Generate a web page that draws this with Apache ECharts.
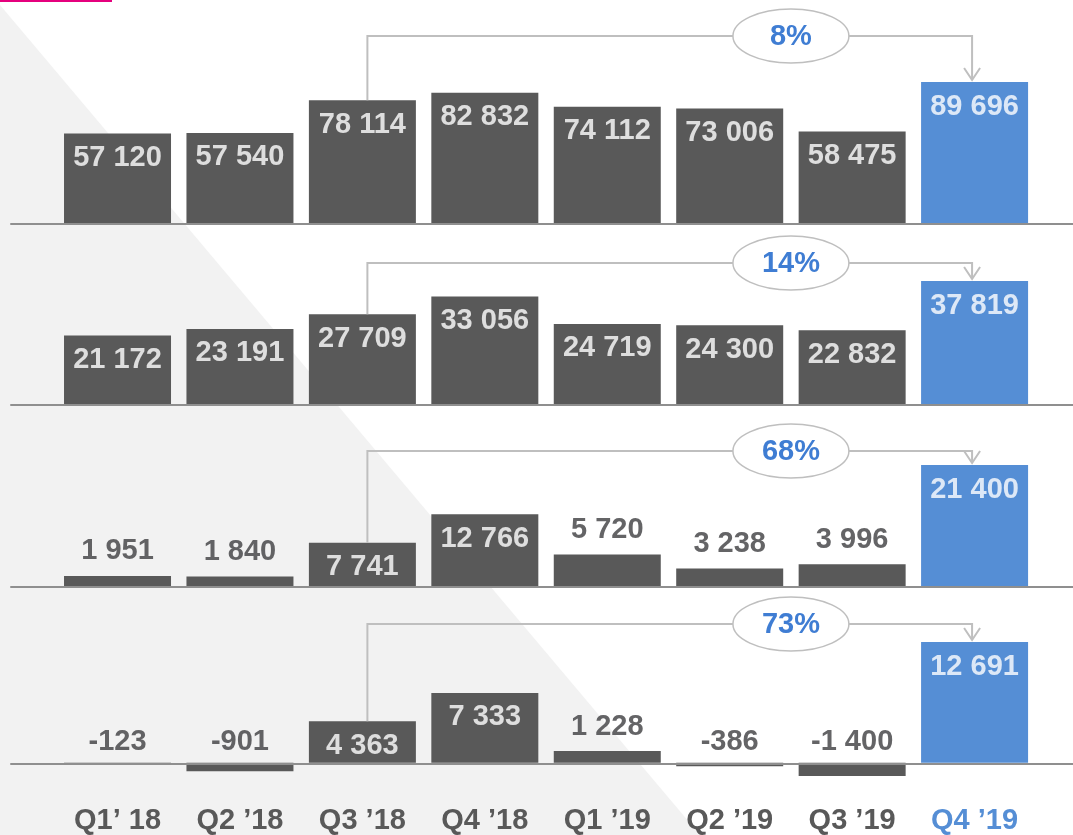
<!DOCTYPE html>
<html><head><meta charset="utf-8">
<script src="https://cdn.jsdelivr.net/npm/echarts@6/dist/echarts.min.js"></script>
<style>html,body{margin:0;padding:0;background:#fff}#c{width:1073px;height:835px}</style>
</head><body><div id="c"></div>
<script>
// ---- data ----
const categories = ['Q1\u2019 18', 'Q2 \u201918', 'Q3 \u201918', 'Q4 \u201918', 'Q1 \u201919', 'Q2 \u201919', 'Q3 \u201919', 'Q4 \u201919'];
const revenue     = [57120, 57540, 78114, 82832, 74112, 73006, 58475, 89696];
const grossProfit = [21172, 23191, 27709, 33056, 24719, 24300, 22832, 37819];
const ebitda      = [1951, 1840, 7741, 12766, 5720, 3238, 3996, 21400];
const netIncome   = [-123, -901, 4363, 7333, 1228, -386, -1400, 12691];
const growthLabels = ['8%', '14%', '68%', '73%'];
const growthFrom = 2;   // Q3 '18
const growthTo = 7;     // Q4 '19
const highlightIndex = 7;

// ---- layout / style ----
const panels = [revenue, grossProfit, ebitda, netIncome];
const baseY = [224, 405, 587, 764];
const maxPx = [142, 124, 122, 122];
const connectorY = [36, 263, 451, 624];
const gridLeft = 56.3, gridRight = 37.2;
const DARK = '#595959', BLUE = '#558ed5', LINE = '#bfbfbf', TXT = '#3d3d40';
const FONT = '"Liberation Sans", Arial, Helvetica, sans-serif';

const fmt = v => (v < 0 ? '-' : '') + Math.abs(v).toString().replace(/\B(?=(\d{3})+(?!\d))/g, ' ');

const grids = [], xAxes = [], yAxes = [], series = [];

panels.forEach((vals, k) => {
  const max = Math.max(...vals);
  const min = Math.min(0, ...vals);
  const scale = maxPx[k] / max;
  const top = baseY[k] - max * scale;
  const height = (max - min) * scale;
  grids.push({ left: gridLeft, right: gridRight, top: top, height: height });
  grids.push({ left: 11, right: 0, top: top, height: height });
  const bi = 2 * k, li = 2 * k + 1;
  xAxes[bi] = {
    type: 'category', gridIndex: bi,
    data: categories.map((c, i) => i === highlightIndex ? { value: c, textStyle: { color: BLUE } } : c),
    axisLine: { show: false, onZero: false }, axisTick: { show: false }, splitLine: { show: false },
    axisLabel: { show: k === 3, margin: 30, fontSize: 29, fontWeight: 'bold', color: DARK, fontFamily: FONT, interval: 0 }
  };
  yAxes[bi] = { type: 'value', gridIndex: bi, min: min, max: max, show: false };
  xAxes[li] = {
    type: 'value', gridIndex: li, min: 0, max: 1, z: 5,
    axisLine: { show: true, onZero: true, lineStyle: { color: '#8f8f8f', width: 2 } },
    axisTick: { show: false }, axisLabel: { show: false }, splitLine: { show: false }
  };
  yAxes[li] = { type: 'value', gridIndex: li, min: min, max: max, show: false };

  series.push({
    type: 'bar', xAxisIndex: bi, yAxisIndex: bi, barWidth: 107, silent: true,
    data: vals.map((v, i) => ({ value: v, itemStyle: { color: i === highlightIndex ? BLUE : DARK } }))
  });

  series.push({
    type: 'scatter', xAxisIndex: bi, yAxisIndex: bi, symbolSize: 0, silent: true, clip: false, z: 6,
    itemStyle: { color: 'transparent' },
    data: vals.map((v, i) => {
      const inside = v * scale >= 35;
      const lab = { show: true, formatter: fmt(v), fontSize: 29, fontWeight: 'bold', fontFamily: FONT };
      if (inside) {
        Object.assign(lab, { position: 'bottom', distance: 10, color: '#ffffff' });
        return { value: [i, v], label: lab };
      }
      Object.assign(lab, { position: 'top', distance: v < 0 ? 6 : 10, color: TXT });
      return { value: [i, Math.max(v, 0)], label: lab };
    })
  });

  series.push({
    type: 'custom', xAxisIndex: bi, yAxisIndex: bi, silent: true, z: 7, clip: false,
    data: [[growthFrom, growthTo]],
    renderItem: (params, api) => {
      const f = api.value(0), t = api.value(1);
      const p1 = api.coord([f, vals[f]]);
      const p2 = api.coord([t, vals[t]]);
      const ly = connectorY[k];
      const x1 = p1[0] + 5, x2 = p2[0] - 2.5;
      const tip = p2[1] - 2;
      const mid = (api.coord([5, 0])[0] + api.coord([6, 0])[0]) / 2;
      return {
        type: 'group',
        children: [
          { type: 'polyline', shape: { points: [[x1, p1[1]], [x1, ly], [x2, ly], [x2, tip]] },
            style: { stroke: LINE, lineWidth: 2, fill: null } },
          { type: 'polyline', shape: { points: [[x2 - 8, tip - 12], [x2, tip], [x2 + 8, tip - 12]] },
            style: { stroke: LINE, lineWidth: 2, fill: null } },
          { type: 'ellipse', shape: { cx: mid, cy: ly, rx: 58, ry: 27 },
            style: { fill: '#ffffff', stroke: LINE, lineWidth: 1.5 } },
          { type: 'text', style: { x: mid, y: ly + 1, text: growthLabels[k], align: 'center', verticalAlign: 'middle',
              fill: '#3f7dd3', font: 'bold 29px ' + FONT } }
        ]
      };
    }
  });
});

const chart = echarts.init(document.getElementById('c'), null, { renderer: 'canvas' });
chart.setOption({
  backgroundColor: '#ffffff',
  animation: false,
  graphic: [
    { type: 'polygon', z: -10, silent: true, shape: { points: [[0, 5], [0, 835], [700, 835]] }, style: { fill: '#f2f2f2' } },
    { type: 'rect', z: 100, silent: true, shape: { x: 0, y: 0, width: 112, height: 2 }, style: { fill: '#e5007d' } }
  ],
  grid: grids,
  xAxis: xAxes,
  yAxis: yAxes,
  series: series
});
</script>
</body></html>
